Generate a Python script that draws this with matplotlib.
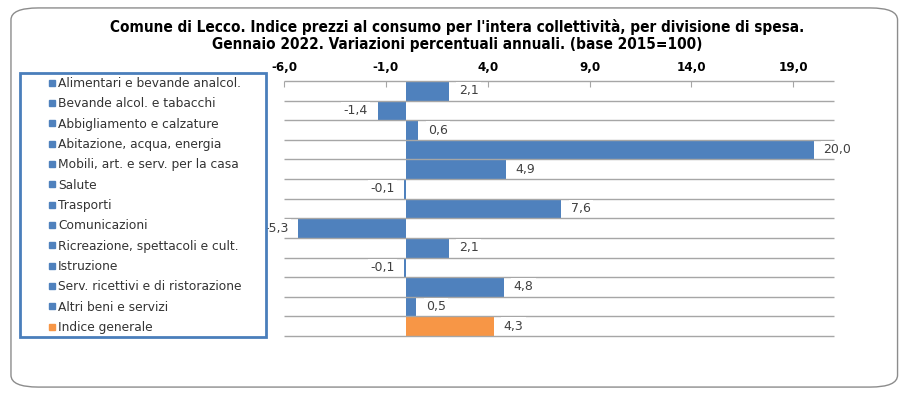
import numpy as np
import matplotlib
matplotlib.use('Agg')
import matplotlib.pyplot as plt
from matplotlib.lines import Line2D
from matplotlib.patches import FancyBboxPatch, Rectangle

# ------------ DATA ------------
categories = [
    'Alimentari e bevande analcol.',
    'Bevande alcol. e tabacchi',
    'Abbigliamento e calzature',
    'Abitazione, acqua, energia',
    'Mobili, art. e serv. per la casa',
    'Salute',
    'Trasporti',
    'Comunicazioni',
    'Ricreazione, spettacoli e cult.',
    'Istruzione',
    'Serv. ricettivi e di ristorazione',
    'Altri beni e servizi',
    'Indice generale',
]
values = [2.1, -1.4, 0.6, 20.0, 4.9, -0.1, 7.6, -5.3, 2.1, -0.1, 4.8, 0.5, 4.3]
tick_values = [-6, -1, 4, 9, 14, 19]

title = ("Comune di Lecco. Indice prezzi al consumo per l'intera collettività, per divisione di spesa.\n"
         "Gennaio 2022. Variazioni percentuali annuali. (base 2015=100)")

blue = '#4f81bd'
orange = '#f79646'
grid_col = '#a6a6a6'
colors = [blue] * (len(categories) - 1) + [orange]


def fmt(v):
    return f'{v:.1f}'.replace('.', ',')


# ------------ PLOT ------------
fig = plt.figure(figsize=(9.14, 3.97), dpi=100)

# outer rounded frame
frame = FancyBboxPatch((0.012, 0.025), 0.97, 0.955, transform=fig.transFigure,
                       boxstyle='round,pad=0,rounding_size=0.03',
                       fc='none', ec='#8c8c8c', lw=1.0, zorder=-1)
fig.patches.append(frame)

fig.text(0.5, 0.91, title, ha='center', va='center', fontsize=11,
         fontweight='bold', fontstretch='condensed', linespacing=1.2)

ax = fig.add_axes([0.3107, 0.1537, 0.6018, 0.6423])
ax.patch.set_alpha(0)

y = np.arange(len(categories))
ax.barh(y, values, height=1.0, color=colors, zorder=2)
ax.hlines(np.arange(len(categories) + 1) - 0.5, -6, 21, color=grid_col, lw=1.0,
          zorder=2.5, clip_on=False)

ax.set_xlim(-6, 21)
ax.set_ylim(len(categories) - 0.5, -0.5)
ax.set_yticks([])
ax.xaxis.tick_top()
ax.set_xticks(tick_values)
ax.set_xticklabels([fmt(t) for t in tick_values], fontweight='bold', fontsize=9.5,
                   fontstretch='condensed')
ax.tick_params(axis='x', direction='in', length=4, color=grid_col, pad=5)
for s in ax.spines.values():
    s.set_visible(False)

# value labels
for yi, v in zip(y, values):
    off = 7 if v >= 0 else -7
    ax.annotate(fmt(v), (v, yi), xytext=(off, 0), textcoords='offset points',
                ha='left' if v >= 0 else 'right', va='center', fontsize=9,
                color='#404040', zorder=3,
                bbox=dict(boxstyle='square,pad=0.18', fc='white', ec='none'))

# legend box with category names
box = Rectangle((0.022, 0.152), 0.269, 0.665, transform=fig.transFigure,
                fc='white', ec='#4a7ebb', lw=2.0, zorder=5)
fig.patches.append(box)
handles = [Line2D([], [], marker='s', ls='none', color=c, markersize=4.5) for c in colors]
leg = fig.legend(handles, categories, loc='upper left', bbox_to_anchor=(0.044, 0.828),
                 frameon=False, fontsize=8.8, handlelength=0.5, handletextpad=0.25,
                 labelspacing=0.6, borderpad=0.2, labelcolor='#333333')
leg.set_zorder(6)

fig.savefig('out.png', dpi=100)
